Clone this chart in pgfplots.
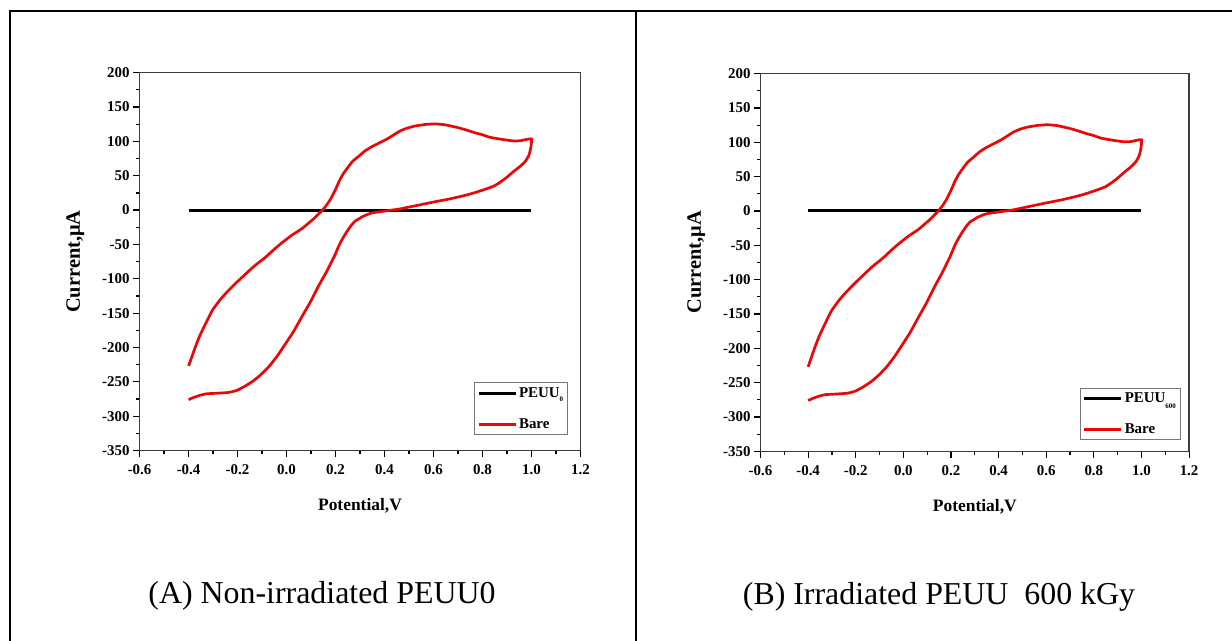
\documentclass[border=0pt]{standalone}
\usepackage{fontspec}
\setmainfont{Liberation Serif}
\usepackage{pgfplots}
\usepackage{pgfplotstable}
\pgfplotsset{compat=1.18}
\definecolor{cvred}{RGB}{232,8,8}
\definecolor{axgray}{RGB}{60,60,60}
\definecolor{leggray}{RGB}{120,120,120}

\pgfplotstableread{
V I
-0.400 -227
-0.370 -197
-0.353 -182
-0.330 -165
-0.303 -146
-0.270 -130
-0.237 -117
-0.200 -104
-0.170 -94
-0.130 -81
-0.087 -69
-0.050 -57
-0.020 -48
0.020 -37
0.063 -27
0.090 -19
0.113 -12
0.130 -6
0.147 0
0.165 8
0.180 16
0.200 30
0.215 42
0.230 52
0.250 62
0.270 71
0.297 79
0.320 86
0.347 92
0.380 98
0.413 104
0.440 110
0.463 115
0.490 119
0.520 122
0.563 124.5
0.605 125.5
0.640 124.5
0.663 123
0.700 120
0.730 117
0.770 112.5
0.797 110
0.830 106
0.870 103.5
0.897 102
0.930 100.6
0.955 101
0.975 102.5
1.000 103.5
0.998 92
0.990 80
0.975 71
0.955 64
0.930 57
0.897 47
0.870 40
0.847 35
0.813 30.5
0.770 25.5
0.730 21.5
0.663 16
0.597 11.5
0.550 8
0.497 4.2
0.460 1.5
0.430 0
0.400 -1.5
0.380 -2.5
0.350 -4
0.330 -6.5
0.310 -9.5
0.297 -12.5
0.280 -16
0.265 -22
0.255 -27
0.247 -31
0.235 -38
0.222 -46
0.210 -55
0.197 -66
0.180 -78
0.163 -90
0.130 -111
0.097 -134
0.063 -155
0.030 -176
-0.003 -194
-0.037 -212
-0.070 -227
-0.103 -239
-0.137 -249
-0.170 -256.5
-0.203 -262.5
-0.237 -265.5
-0.287 -266.7
-0.328 -267.5
-0.353 -269.6
-0.378 -272.6
-0.400 -276
}\bare

\pgfplotstableread{
V I
-0.4 0
1.0 0
}\peuu

\pgfplotsset{
  cvstyle/.style={
    scale only axis,
    xmin=-0.6, xmax=1.2, ymin=-350, ymax=200,
    xtick={-0.6,-0.4,...,1.21},
    ytick={-350,-300,...,200},
    minor x tick num=1, minor y tick num=1,
    xtick pos=bottom, ytick pos=left,
    tick align=outside,
    major tick length=6.5bp, minor tick length=3.5bp,
    tick style={black, line width=1.2bp},
    axis line style={axgray, line width=1.3bp},
    /pgf/number format/assume math mode=true,
    ticklabel style={font=\bfseries\fontsize{15}{15}\selectfont},
    xticklabel style={yshift=-4bp, /pgf/number format/.cd, fixed, fixed zerofill, precision=1},
    yticklabel style={/pgf/number format/.cd, fixed, precision=0},
    xlabel style={font=\bfseries\fontsize{17.5}{18}\selectfont, at={(axis description cs:0.5,0)}, anchor=base, yshift=-60bp},
    ylabel style={font=\bfseries\fontsize{20.5}{21}\selectfont, at={([xshift=-59.6bp]axis description cs:0,0.5)}, anchor=base, rotate=0},
    xlabel={Potential,V},
    ylabel={Current,μA},
    legend cell align=left,
    legend style={draw=leggray, line width=1bp, fill=white,
      font=\bfseries\fontsize{15}{15}\selectfont,
      inner sep=2.5bp, row sep=16bp, anchor=south east},
  }
}

\begin{document}
\begin{tikzpicture}
\useasboundingbox (0bp,0bp) rectangle (1232bp,641bp);
\draw[line width=2bp] (9.5bp,0bp) -- (9.5bp,630bp) -- (1232bp,630bp);
\draw[line width=2bp] (636bp,0bp) -- (636bp,630bp);

\begin{axis}[cvstyle, at={(139.6bp,190.5bp)}, anchor=south west,
  width=440.8bp, height=377.8bp,
  legend style={at={(1,0)}, xshift=-12.2bp, yshift=15.5bp}]
\addplot[black, line width=3bp, legend image code/.code={\draw[black, line width=3bp] (0bp,0bp) -- (37bp,0bp);}] table[x=V,y=I] {\peuu};
\addlegendentry{PEUU\raisebox{-4bp}{\fontsize{7}{7}\selectfont 0}}
\addplot[cvred, line width=2.7bp, smooth, tension=0.3, legend image code/.code={\draw[cvred, line width=3bp] (0bp,0bp) -- (37bp,0bp);}] table[x=V,y=I] {\bare};
\addlegendentry{Bare}
\end{axis}

\begin{axis}[cvstyle, at={(760.5bp,189.7bp)}, anchor=south west,
  width=428.6bp, height=377.7bp,
  legend style={at={(1,0)}, xshift=-8.2bp, yshift=11bp}]
\addplot[black, line width=3bp, legend image code/.code={\draw[black, line width=3bp] (0bp,0bp) -- (37bp,0bp);}] table[x=V,y=I] {\peuu};
\addlegendentry{PEUU\raisebox{-6bp}{\fontsize{7}{7}\selectfont 600}}
\addplot[cvred, line width=2.7bp, smooth, tension=0.3, legend image code/.code={\draw[cvred, line width=3bp] (0bp,0bp) -- (37bp,0bp);}] table[x=V,y=I] {\bare};
\addlegendentry{Bare}
\end{axis}

\node[anchor=base, font=\fontsize{32}{34}\selectfont] at (322bp,38bp) {(A) Non-irradiated PEUU0};
\node[anchor=base, font=\fontsize{32}{34}\selectfont] at (939bp,37bp) {(B) Irradiated PEUU\ \ 600 kGy};
\end{tikzpicture}
\end{document}
